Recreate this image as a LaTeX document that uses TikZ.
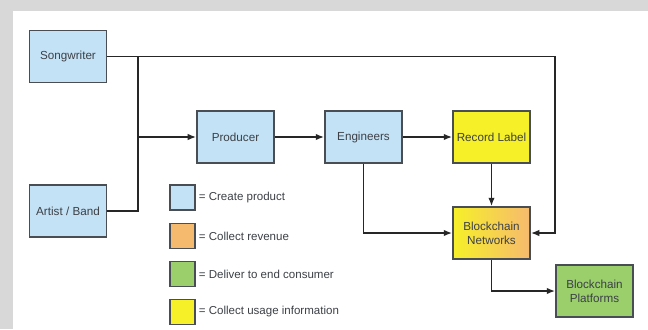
\documentclass[tikz,border=0pt]{standalone}
\usepackage{fontspec}
\setmainfont{Liberation Sans}
\usetikzlibrary{arrows.meta,positioning}

\definecolor{prodBlue}{RGB}{196,226,245}
\definecolor{revOrange}{RGB}{246,186,110}
\definecolor{delGreen}{RGB}{154,207,108}
\definecolor{useYellow}{RGB}{246,240,40}
\definecolor{edgeGray}{RGB}{72,78,84}
\definecolor{textGray}{RGB}{60,64,70}
\definecolor{pageGray}{RGB}{216,216,216}

\begin{document}
\begin{tikzpicture}[x=0.025cm, y=-0.025cm, line cap=butt, line join=miter]

% ---------------- styles ----------------
\tikzset{
  roleBox/.style  ={draw=edgeGray, line width=1.15pt, minimum width=1.925cm,
                    minimum height=1.3cm, inner sep=1pt, align=center,
                    text=textGray, font=\fontsize{8.3}{10.2}\selectfont},
  keyBox/.style   ={draw=edgeGray, line width=1pt, minimum width=0.63cm,
                    minimum height=0.63cm, inner sep=0pt},
  keyText/.style  ={inner sep=1pt, text=textGray, anchor=west,
                    font=\fontsize{8.2}{10}\selectfont},
  flowLine/.style ={draw=black!85, line width=1.1pt},
  flowArrow/.style={flowLine, -{Latex[length=6pt,width=4.6pt]}}
}

% ---------------- page ----------------
\useasboundingbox (0,0) rectangle (648,329);
\fill[pageGray] (0,0) rectangle (648,329);
\fill[white] (13,11) rectangle (648,329);

% ---------------- roles ----------------
\node[roleBox, fill=prodBlue]  (song)      at (68,56.5)  {Songwriter};
\node[roleBox, fill=prodBlue]  (artist)    at (68,211)   {Artist / Band};
\node[roleBox, fill=prodBlue]  (producer)  at (235.5,137) {Producer};
\node[roleBox, fill=prodBlue]  (engineers) at (363.5,137) {Engineers};
\node[roleBox, fill=useYellow] (label)     at (491.5,137) {Record Label};
\node[roleBox, left color=useYellow, right color=revOrange]
                               (chain)     at (491.5,233) {Blockchain\\Networks};
\node[roleBox, fill=delGreen]  (platforms) at (594.5,291) {Blockchain\\Platforms};

% ---------------- junctions ----------------
\coordinate (songJoin) at (138,56.5);
\coordinate (prodJoin) at (138,137);
\coordinate (artJoin)  at (138,211);
\coordinate (railTop)  at (555,56.5);

% ---------------- connectors ----------------
\draw[flowArrow] (song.east) -- (railTop) |- (chain.east);
\draw[flowLine]  (songJoin) -- (artJoin) -- (artist.east);
\draw[flowArrow] (prodJoin) -- (producer.west);
\draw[flowArrow] (producer) -- (engineers);
\draw[flowArrow] (engineers) -- (label);
\draw[flowArrow] (engineers.south) |- (chain.west);
\draw[flowArrow] (label) -- (chain);
\draw[flowArrow] (chain.south) |- (platforms.west);

% ---------------- legend ----------------
\node[keyBox, fill=prodBlue]   (keyProd) at (182.5,197.5) {};
\node[keyBox, fill=revOrange]  (keyRev)  at (182.5,236)   {};
\node[keyBox, fill=delGreen]   (keyDel)  at (182.5,274)   {};
\node[keyBox, fill=useYellow]  (keyUse)  at (182.5,312)   {};

\node[keyText, right=1pt of keyProd] {= Create product};
\node[keyText, right=1pt of keyRev]  {= Collect revenue};
\node[keyText, right=1pt of keyDel]  {= Deliver to end consumer};
\node[keyText, right=1pt of keyUse]  {= Collect usage information};

\end{tikzpicture}
\end{document}
